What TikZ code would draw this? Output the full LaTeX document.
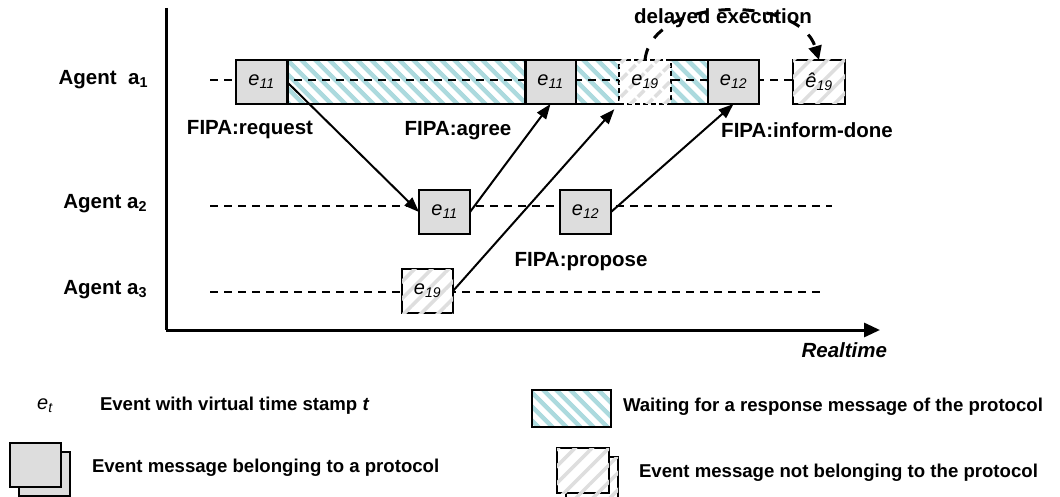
\documentclass[tikz,border=0pt]{standalone}
\usepackage{fontspec}
\setmainfont{Liberation Sans}
\usetikzlibrary{arrows.meta,patterns.meta,calc}
\definecolor{boxgray}{RGB}{221,221,221}
\definecolor{hatchcyan}{RGB}{172,218,222}
\definecolor{hatchgray}{RGB}{222,222,222}
\newcommand\evt[2]{{\fontsize{20}{20}\selectfont\itshape #1\textsubscript{#2}}}
\begin{document}
\begin{tikzpicture}[x=1pt,y=-1pt,
  every node/.style={inner sep=0pt,outer sep=0pt},
  lbl/.style={font=\fontsize{20.5}{22}\selectfont\bfseries},
  leg/.style={font=\fontsize{18.6}{20}\selectfont\bfseries,anchor=west},
  evbox/.style={draw,line width=1.5pt,fill=boxgray,minimum height=44pt,minimum width=51pt},
  waitbox/.style={pattern={Lines[angle=-45,distance=10.5pt,line width=5pt]},pattern color=hatchcyan,minimum height=44pt},
  foreignbox/.style={draw,line width=1.5pt,fill=white,postaction={pattern={Lines[angle=45,distance=12pt,line width=3.5pt]},pattern color=hatchgray},minimum height=44pt,minimum width=52pt},
  lifeline/.style={dash pattern=on 8pt off 6pt,line width=1.5pt},
  msg/.style={line width=2pt,-{Triangle[length=15pt,width=11pt]}},
  axis/.style={line width=3pt},
]
\useasboundingbox (0,0) rectangle (1060,497);

% axes
\coordinate (Ytop) at (166,8);
\coordinate (O) at (166,330);
\coordinate (Xend) at (880,330);
\draw[axis] (Ytop) -- (O);
\draw[axis,-{Triangle[length=16pt,width=14pt]}] (O) -- (Xend);
\node[font=\fontsize{20.5}{22}\selectfont\bfseries\itshape,anchor=east] (rt) at (887,350) {Realtime};

% agent labels
\node[lbl,anchor=east] (ag1) at (148,80) {Agent\ \ a\textsubscript{1}};
\node[lbl,anchor=east] (ag2) at (147,204) {Agent a\textsubscript{2}};
\node[lbl,anchor=east] (ag3) at (147,290) {Agent a\textsubscript{3}};

% waiting regions of agent a1
\node[waitbox,minimum width=238pt] (W1) at (406,82) {};
\node[waitbox,minimum width=43pt] (W2) at (597.5,82) {};
\node[waitbox,minimum width=37pt] (W3) at (689.5,82) {};
\draw[line width=1.5pt] (W1.north west) -- (W1.north east) (W1.south west) -- (W1.south east);
\draw[line width=1.5pt] (W2.north west) -- (W2.north east) (W2.south west) -- (W2.south east);
\draw[line width=1.5pt] (W3.north west) -- (W3.north east) (W3.south west) -- (W3.south east);

% lifelines
\coordinate (L1s) at (210,80);
\coordinate (L1e) at (793,80);
\coordinate (L2s) at (210,206);
\coordinate (L2e) at (832,206);
\coordinate (L3s) at (210,292);
\coordinate (L3e) at (825,292);
\draw[lifeline] (L1s) -- (L1e);
\draw[lifeline] (L2s) -- (L2e);
\draw[lifeline] (L3s) -- (L3e);

% events agent a1
\node[evbox] (A1e11a) at (261.5,82) {\evt{e}{11}};
\node[evbox] (A1e11b) at (550.5,82) {\evt{e}{11}};
\node[foreignbox,dash pattern=on 5pt off 3pt] (A1e19) at (645,82) {\evt{e}{19}};
\node[evbox] (A1e12) at (733.5,82) {\evt{e}{12}};
\node[foreignbox] (A1e19h) at (819,82) {\evt{\^e}{19}};
\draw[line width=3pt] (A1e11a.north east) -- (A1e11a.south east);
\draw[line width=3pt] (A1e11b.north west) -- (A1e11b.south west);

% events agent a2, a3
\node[evbox] (A2e11) at (444.5,212) {\evt{e}{11}};
\node[evbox] (A2e12) at (585.5,212) {\evt{e}{12}};
\node[foreignbox,minimum width=51pt] (A3e19) at (427.5,291) {\evt{e}{19}};

% messages
\draw[msg] (A1e11a.east) -- (A2e11.west);
\draw[msg] (A2e11.east) -- (A1e11b.south);
\draw[msg,shorten >=7pt] (A3e19.east) -- (A1e19.south west);
\draw[msg] (A2e12.east) -- (A1e12.south);

% delayed execution
\draw[line width=3pt,dash pattern=on 12pt off 12pt,-{Triangle[length=14pt,width=13pt]}]
  (A1e19.north) .. controls (652,-5) and (800,-5) .. (A1e19h.north);
\node[lbl] (dl) at (723,18) {delayed execution};

% message labels
\node[lbl] (lreq) at (250,130) {FIPA:request};
\node[lbl] (lagr) at (458,131) {FIPA:agree};
\node[lbl] (linf) at (807,130) {FIPA:inform-done};
\node[lbl] (lpro) at (581,262) {FIPA:propose};

% legend
\node (Let) at (45,406) {\evt{e}{t}};
\node[leg] (Lt1) at (100,406) {Event with virtual time stamp \textit{t}};
\node[draw,line width=1.5pt,fill=boxgray,minimum width=51pt,minimum height=44pt] (Lg1b) at (44.5,474) {};
\node[draw,line width=1.5pt,fill=boxgray,minimum width=51pt,minimum height=44pt] (Lg1f) at (35.5,465) {};
\node[leg] (Lt2) at (92,468) {Event message belonging to a protocol};
\node[draw,line width=1.5pt,pattern={Lines[angle=-45,distance=10.5pt,line width=5pt]},pattern color=hatchcyan,minimum width=79pt,minimum height=37pt] (Lw) at (571.5,408.5) {};
\node[leg] (Lt3) at (623,407) {Waiting for a response message of the protocol};
\node[foreignbox,minimum height=45pt] (Lg2b) at (592,479.5) {};
\node[foreignbox,minimum height=45pt] (Lg2f) at (583,470.5) {};
\node[leg] (Lt4) at (639,473) {Event message not belonging to the protocol};
\end{tikzpicture}
\end{document}
